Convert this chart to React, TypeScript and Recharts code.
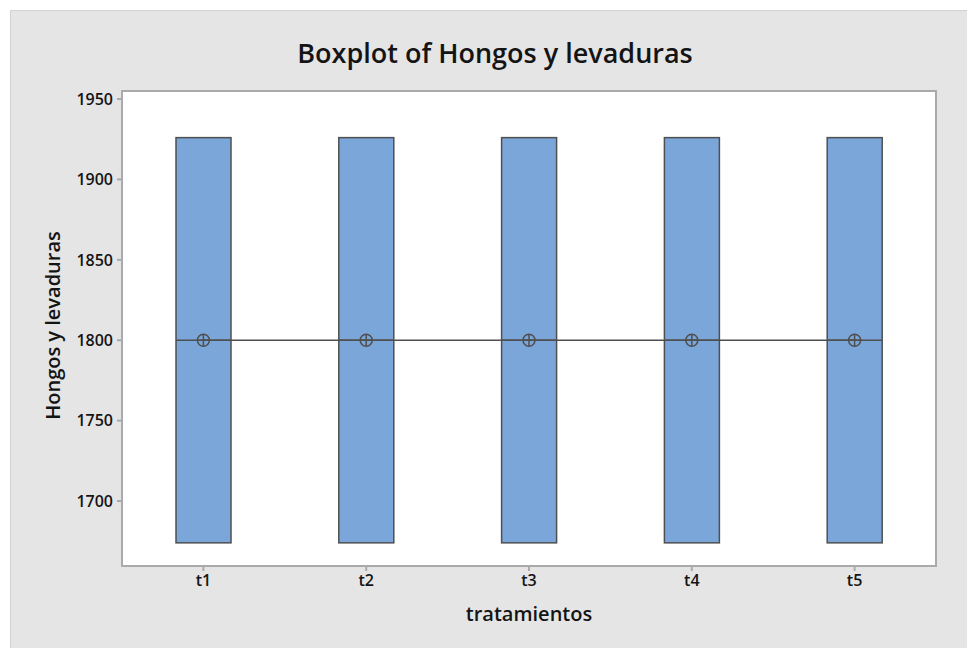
import { ComposedChart, Bar, Line, XAxis, YAxis } from "recharts"

const categories = ["t1", "t2", "t3", "t4", "t5"]
const q1Values = [1674, 1674, 1674, 1674, 1674]
const medianValues = [1800, 1800, 1800, 1800, 1800]
const q3Values = [1926, 1926, 1926, 1926, 1926]
const meanValues = [1800, 1800, 1800, 1800, 1800]
const yTicks = [1700, 1750, 1800, 1850, 1900, 1950]

const data = categories.map((name, i) => ({
  name,
  box: [q1Values[i], q3Values[i]],
  q1: q1Values[i],
  q3: q3Values[i],
  median: medianValues[i],
  mean: meanValues[i],
}))

const FONT = "'Open Sans', 'Noto Sans', sans-serif"
const INK = "#141414"
const EDGE = "#4f4f4f"

function BoxShape(props: any) {
  const { x, y, width, height, payload } = props
  const top = Math.min(y, y + height)
  const h = Math.abs(height)
  const my = top + (h * (payload.q3 - payload.median)) / (payload.q3 - payload.q1)
  return (
    <g>
      <rect x={x} y={top} width={width} height={h} fill="#7ba6d9" stroke={EDGE} strokeWidth={1.5} />
      <line x1={x} x2={x + width} y1={my} y2={my} stroke={EDGE} strokeWidth={1.5} />
    </g>
  )
}

function MeanDot(props: any) {
  const { cx, cy, index } = props
  const r = 6
  return (
    <g key={`mean-${index}`}>
      <circle cx={cx} cy={cy} r={r} fill="none" stroke={EDGE} strokeWidth={1.5} />
      <line x1={cx} x2={cx} y1={cy - r} y2={cy + r} stroke={EDGE} strokeWidth={1.5} />
      <line x1={cx - r} x2={cx + r} y1={cy} y2={cy} stroke={EDGE} strokeWidth={1.5} />
    </g>
  )
}

export default function App() {
  const tickStyle = { fill: INK, fontSize: 16, fontWeight: 600, fontFamily: FONT }
  return (
    <div style={{ position: "absolute", left: 0, top: 0, width: 967, height: 648, background: "#fff", fontFamily: FONT }}>
      <div
        style={{
          position: "absolute",
          left: 10,
          top: 10,
          width: 957,
          height: 638,
          background: "#e5e5e5",
          borderLeft: "1px solid #d2d2d2",
          borderTop: "1px solid #d2d2d2",
          boxSizing: "border-box",
        }}
      />
      <div
        style={{
          position: "absolute",
          left: 121,
          top: 90,
          width: 816,
          height: 477,
          background: "#fff",
          border: "2px solid #aaaaaa",
          boxSizing: "border-box",
        }}
      />
      <div
        style={{
          position: "absolute",
          left: 0,
          width: 990,
          top: 34,
          textAlign: "center",
          fontSize: 27,
          fontWeight: 600,
          color: INK,
        }}
      >
        Boxplot of Hongos y levaduras
      </div>
      <div
        style={{
          position: "absolute",
          left: 429,
          width: 200,
          top: 600,
          textAlign: "center",
          fontSize: 20,
          fontWeight: 600,
          color: INK,
        }}
      >
        tratamientos
      </div>
      <div
        style={{
          position: "absolute",
          left: 52 - 150,
          top: 327 - 15,
          width: 300,
          textAlign: "center",
          fontSize: 20,
          fontWeight: 600,
          color: INK,
          transform: "rotate(-90deg)",
        }}
      >
        Hongos y levaduras
      </div>
      <div style={{ position: "absolute", left: 0, top: 0 }}>
        <ComposedChart width={967} height={648} data={data} margin={{ top: 91, right: 31, bottom: 52, left: 0 }}>
          <XAxis
            dataKey="name"
            height={30}
            axisLine={false}
            tickLine={{ stroke: "#aaaaaa", strokeWidth: 2 }}
            tickSize={5}
            tickMargin={4}
            tick={tickStyle}
            interval={0}
          />
          <YAxis
            width={122}
            domain={[1659.6, 1955]}
            ticks={yTicks}
            axisLine={false}
            tickLine={{ stroke: "#aaaaaa", strokeWidth: 2 }}
            tickSize={5}
            tickMargin={4}
            tick={tickStyle}
            allowDataOverflow
          />
          <Bar dataKey="box" barSize={55} shape={BoxShape} isAnimationActive={false} />
          <Line
            dataKey="mean"
            stroke={EDGE}
            strokeWidth={1.5}
            dot={(p: any) => <MeanDot key={`mean-${p.index}`} {...p} />}
            activeDot={false}
            isAnimationActive={false}
          />
        </ComposedChart>
      </div>
    </div>
  )
}
